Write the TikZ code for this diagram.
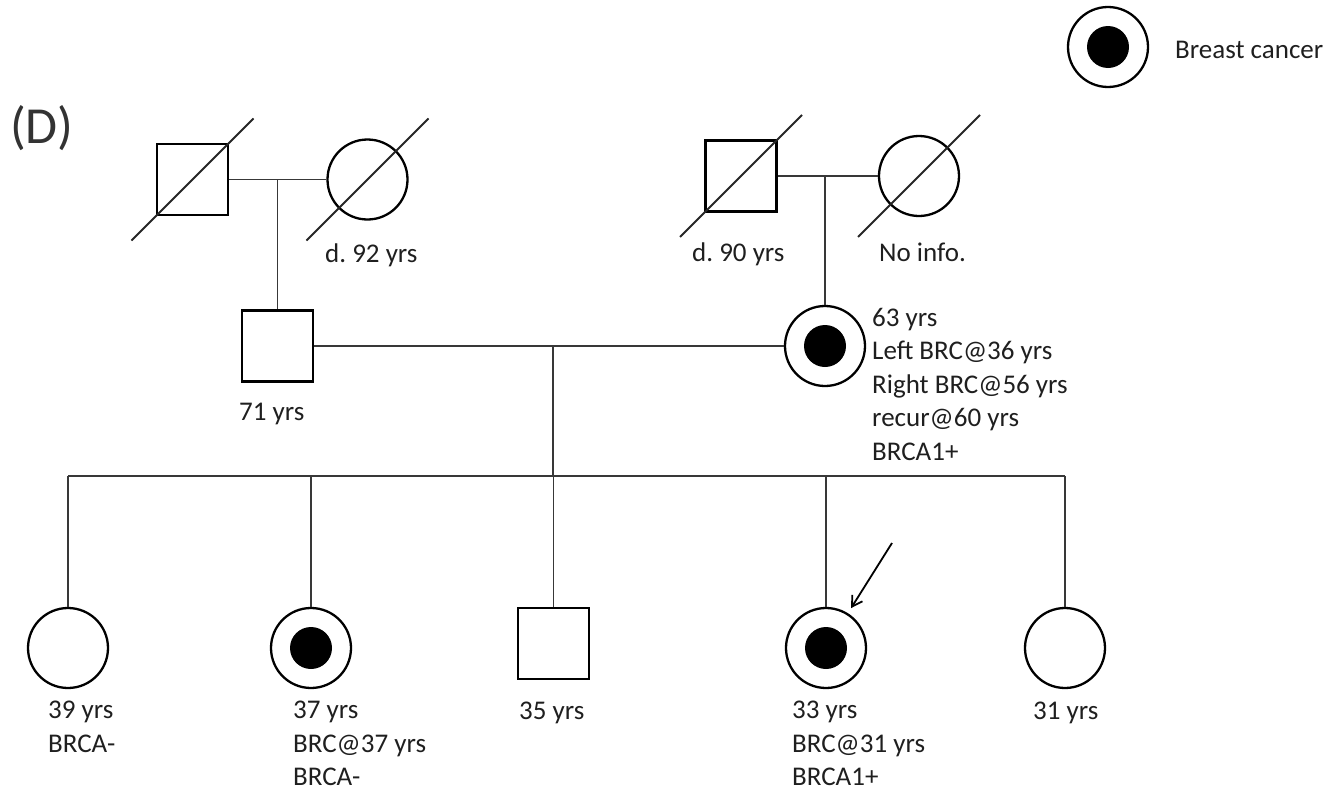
\documentclass[tikz,border=0pt]{standalone}
\usepackage{fontspec}
\setmainfont{Carlito}
\frenchspacing
\usetikzlibrary{arrows.meta}
\begin{document}
\begin{tikzpicture}[x=1pt,y=-1pt,
  male/.style={draw=black, line width=2.3pt, rectangle, minimum size=71pt, inner sep=0pt},
  female/.style={draw=black, line width=2.3pt, circle, minimum size=80pt, inner sep=0pt},
  affected/.style={path picture={\fill[black] (path picture bounding box.center) circle (21pt);}},
  link/.style={line width=1.8pt, draw=black!78},
  dead/.style={line width=1.8pt, draw=black!85},
  lbl/.style={font=\fontsize{27}{33.5}\selectfont, inner sep=0pt, align=left, text=black!88},
]
\useasboundingbox (0,0) rectangle (1334,790);

% persons
\node[male] (gf1) at (192.5,179.5) {};
\node[female] (gm1) at (367.5,179.5) {};
\node[male] (gf2) at (741,176) {};
\node[female] (gm2) at (919,176) {};
\node[male] (fa) at (277.5,346) {};
\node[female,affected] (mo) at (825,346) {};
\node[female] (c1) at (68,648) {};
\node[female,affected] (c2) at (311,648) {};
\node[male] (c3) at (553.5,643.5) {};
\node[female,affected] (c4) at (826,648) {};
\node[female] (c5) at (1065,648) {};
\node[female,affected] (leg) at (1108,47) {};

% deceased strokes
\foreach \n in {gf1,gm1,gf2,gm2}
  \draw[dead] ([shift={(-61,61)}]\n.center) -- ([shift={(61,-61)}]\n.center);

% connectors
\draw[link] (gf1.east) -- (gm1.west);
\draw[link] (fa.north) -- (fa.north |- gf1.east);
\draw[link] (gf2.east) -- (gm2.west);
\draw[link] (mo.north) -- (mo.north |- gf2.east);
\draw[link] (fa.east) -- (mo.west);
\coordinate (sib) at (553,476);
\draw[link] (sib) -- (sib |- fa.east);
\draw[link] (c1.north |- sib) -- (c5.north |- sib);
\foreach \c in {c1,c2,c3,c4,c5}
  \draw[link] (\c.north) -- (\c.north |- sib);

% proband arrow
\coordinate (arr) at (892,543);
\draw[link, draw=black, -{Straight Barb[length=10pt,width=12pt]}, shorten >=6pt] (arr) -- (c4);

% labels
\node[font=\fontsize{52}{58}\selectfont, inner sep=0pt, text=black!80] (lab) at (42,128) {(D)};
\node[lbl, anchor=base west] (tleg) at (1175,58) {Breast cancer};
\node[lbl, anchor=base west] (tgm1) at (325,262) {d. 92 yrs};
\node[lbl, anchor=base west] (tgf2) at (692,261) {d. 90 yrs};
\node[lbl, anchor=base west] (tgm2) at (879,261) {No info.};
\node[lbl, anchor=base west] (tfa) at (239,420) {71 yrs};
\node[lbl, anchor=north west] (tmo) at (872,308) {63 yrs\\Left BRC@36 yrs\\Right BRC@56 yrs\\recur@60 yrs\\BRCA1+};
\node[lbl, anchor=north west] (tc1) at (48,701) {39 yrs\\BRCA-};
\node[lbl, anchor=north west] (tc2) at (293,701) {37 yrs\\BRC@37 yrs\\BRCA-};
\node[lbl, anchor=base west] (tc3) at (519,719) {35 yrs};
\node[lbl, anchor=north west] (tc4) at (792,701) {33 yrs\\BRC@31 yrs\\BRCA1+};
\node[lbl, anchor=base west] (tc5) at (1033,719) {31 yrs};
\end{tikzpicture}
\end{document}
